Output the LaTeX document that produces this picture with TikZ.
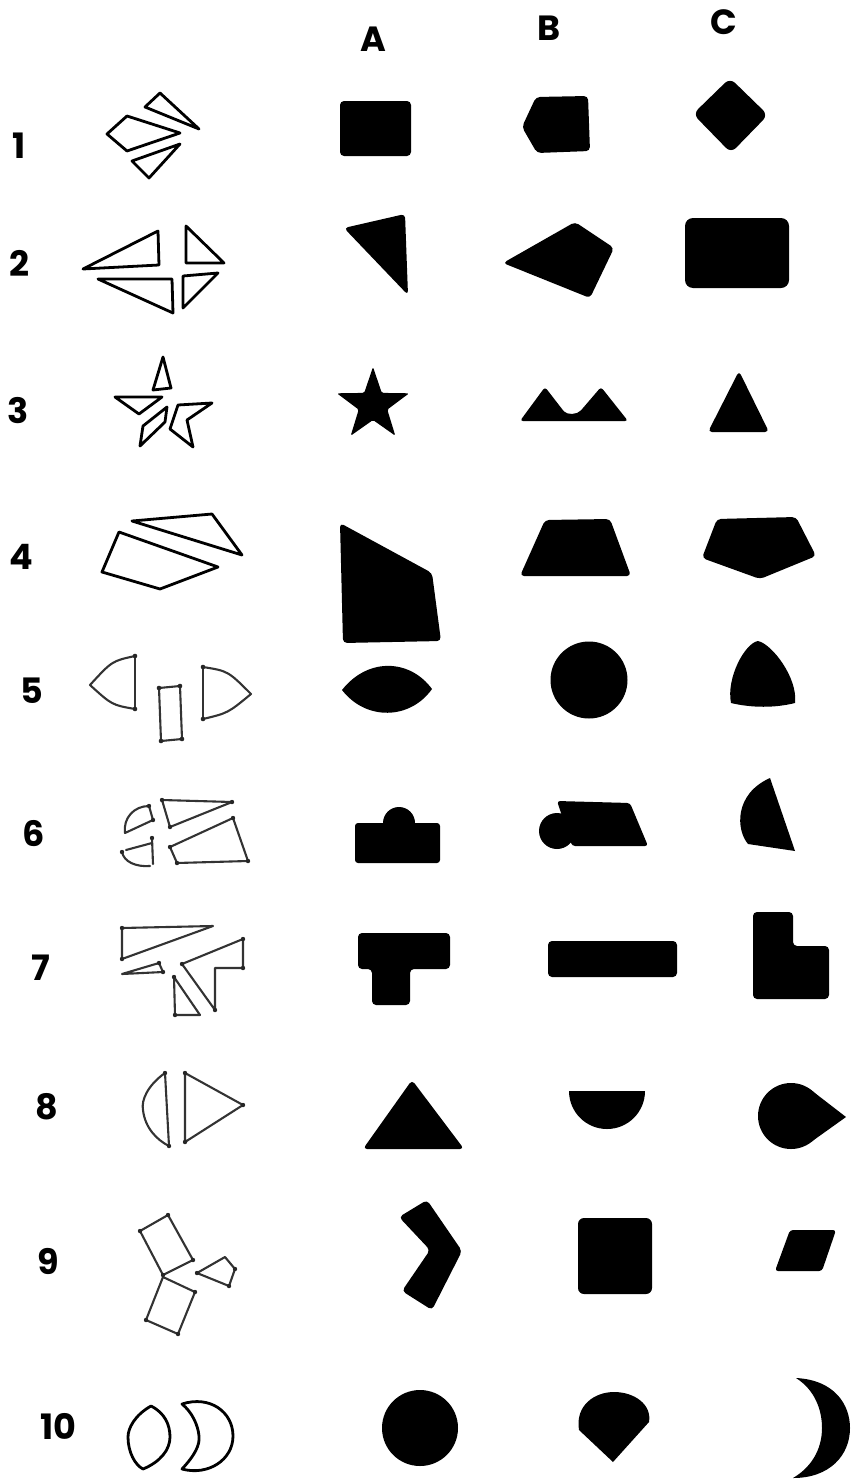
\documentclass[tikz,border=0pt]{standalone}
\usepackage{fontspec}
\newfontfamily\lab{Poppins}
\begin{document}
\begin{tikzpicture}[x=1pt,y=-1pt,
  lbl/.style={font=\lab\bfseries\fontsize{35}{35}\selectfont, inner sep=0pt},
  piece/.style={draw=black, line width=2.8pt, line join=round, line cap=round},
  faint/.style={draw=black!80, line width=2.1pt, line join=round, line cap=round},
  solidshape/.style={fill=black, rounded corners=4pt},
  dotty/.style={fill=black!85}]
\useasboundingbox (0,0) rectangle (851,1480);
% headers
\node[lbl] (hA) at (373,39) {A};
\node[lbl] (hB) at (549,28) {B};
\node[lbl] (hC) at (724,22) {C};
% row labels
\node[lbl] (r1) at (19,146) {1};
\node[lbl] (r2) at (19,263) {2};
\node[lbl] (r3) at (18,411) {3};
\node[lbl] (r4) at (21,557) {4};
\node[lbl] (r5) at (32,691) {5};
\node[lbl] (r6) at (34,834) {6};
\node[lbl] (r7) at (41,968) {7};
\node[lbl] (r8) at (47,1107) {8};
\node[lbl] (r9) at (48,1261) {9};
\node[lbl] (r10) at (58,1426) {10};

% ---------- row 1
\draw[piece] (160,93) -- (145,107) -- (199,129) -- cycle;
\draw[piece] (127,116) -- (107,134) -- (127,151) -- (180,133) -- cycle;
\draw[piece] (132,161) -- (180,144) -- (149,178) -- cycle;
\fill[solidshape] (340,101) rectangle (411,156);
\fill[solidshape] (536,97) -- (588,96) -- (590,151) -- (537,153) -- (522,127) -- cycle;
\fill[solidshape, rounded corners=7pt] (730,78) -- (768,115) -- (731,153) -- (693,114) -- cycle;

% ---------- row 2
\draw[piece] (83,269) -- (158,231) -- (159,265) -- cycle;
\draw[piece] (98,279) -- (172,279) -- (173,313) -- cycle;
\draw[piece] (186,226) -- (186,263) -- (224,263) -- cycle;
\draw[piece] (183,276) -- (218,273) -- (183,308) -- cycle;
\fill[solidshape] (344,228) -- (405,214) -- (408,295) -- cycle;
\fill[solidshape] (503,263) -- (575,222) -- (614,248) -- (590,298) -- cycle;
\fill[solidshape, rounded corners=8pt] (685,218) rectangle (789,288);

% ---------- row 3
\draw[piece] (163,357) -- (153,390) -- (171,388) -- cycle;
\draw[piece] (115,397) -- (162,397) -- (139,414) -- cycle;
\draw[piece] (167,407) -- (165,422) -- (140,446) -- (143,426) -- cycle;
\draw[piece] (178,405) -- (212,403) -- (187,420) -- (193,447) -- (170,429) -- cycle;
\fill[solidshape, rounded corners=1.5pt] (373,367) -- (381.8,392.9) -- (409.1,393.3) -- (387.3,409.6)
  -- (395.3,435.7) -- (373,420) -- (350.7,435.7) -- (358.7,409.6) -- (336.9,393.3) -- (364.2,392.9) -- cycle;
\fill[solidshape, rounded corners=3pt] (520,421) -- (545,387) -- (562,409)
  .. controls (567,415) and (577,415) .. (583,408) -- (601,387) -- (628,421) -- cycle;
\fill[solidshape] (708,432) -- (739,371) -- (769,432) -- cycle;

% ---------- row 4
\draw[piece] (132,521) -- (212,514) -- (242,555) -- cycle;
\draw[piece] (119,532) -- (218,567) -- (160,589) -- (102,572) -- cycle;
\fill[solidshape] (340,523) -- (432,573) -- (441,641) -- (343,643) -- cycle;
\fill[solidshape] (545,520) -- (610,519) -- (631,576) -- (520,576) -- cycle;
\fill[solidshape] (717,519) -- (796,517) -- (816,556) -- (760,579) -- (702,558) -- cycle;

% ---------- row 5
\draw[faint] (135,656) -- (135,709);
\draw[faint] (135,656) .. controls (112,661) .. (90,685) .. controls (112,705) .. (135,709);
\draw[faint] (159,688) -- (180,686) -- (182,739) -- (161,741) -- cycle;
\draw[faint] (203,667) -- (203,719);
\draw[faint] (203,667) .. controls (228,671) .. (251,694) .. controls (228,713) .. (203,719);
\foreach \p in {(135,656),(135,709),(159,688),(180,686),(182,739),(161,741),(203,667),(203,719)}
  \fill[dotty] \p circle (2.3);
\fill (342,690) .. controls (368,657) and (410,659) .. (432,689)
  .. controls (410,720) and (366,721) .. (342,690) -- cycle;
\fill (589,680) circle (38.5);
\fill (731,703) .. controls (726,678) and (745,643) .. (758,641)
  .. controls (772,644) and (798,678) .. (795,703) .. controls (775,708) and (752,708) .. (731,703) -- cycle;

% ---------- row 6
\draw[faint] (149,806) -- (153,820) -- (125,833) .. controls (123,818) and (134,806) .. (149,806);
\draw[faint] (152,838) -- (153,864);
\draw[faint] (126,850) -- (152,843);
\draw[faint] (122,852) .. controls (124,862) and (136,867) .. (150,866);
\draw[faint] (162,800) -- (232,802) -- (170,827) -- cycle;
\draw[faint] (170,847) -- (233,818) -- (248,861) -- (177,863) -- cycle;
\foreach \p in {(149,806),(153,820),(152,838),(122,852),(162,800),(232,802),(170,827),(170,847),(233,818),(248,861),(177,863)}
  \fill[dotty] \p circle (2.2);
\fill[solidshape, rounded corners=3pt] (355,823) rectangle (440,863);
\fill (399,823) circle (16);
\fill (557,831) circle (18);
\fill[solidshape, rounded corners=3pt] (557,801) -- (630,803) -- (648,846) -- (572,846) -- cycle;
\fill (770,778) -- (795,851) -- (748,844)
  .. controls (736,830) and (734,794) .. (770,778) -- cycle;

% ---------- row 7
\draw[faint] (122,928) -- (213,926) -- (122,959) -- cycle;
\draw[faint] (122,974) -- (159,963) -- (163,972) -- cycle;
\draw[faint] (182,964) -- (243,939) -- (243,968) -- (215,968) -- (215,1010) -- cycle;
\draw[faint] (174,977) -- (175,1015) -- (200,1015) -- cycle;
\foreach \p in {(122,928),(122,959),(159,963),(163,972),(182,964),(243,939),(243,968),(215,1010),(174,977),(175,1015)}
  \fill[dotty] \p circle (2.2);
\fill[solidshape] (358,933) -- (450,933) -- (450,969) -- (410,969) -- (410,1005) -- (372,1005) -- (372,969) -- (358,969) -- cycle;
\fill[solidshape] (548,941) rectangle (677,977);
\fill[solidshape] (753,912) -- (793,912) -- (793,946) -- (829,946) -- (829,999) -- (753,999) -- cycle;

% ---------- row 8
\draw[faint] (165,1073) -- (169,1146);
\draw[faint] (165,1073) .. controls (148,1085) and (141,1100) .. (143,1110) .. controls (145,1128) and (157,1140) .. (169,1146);
\draw[faint] (185,1073) -- (243,1105) -- (185,1142) -- cycle;
\foreach \p in {(165,1073),(169,1146),(185,1073),(243,1105),(185,1142)}
  \fill[dotty] \p circle (2.2);
\fill[solidshape] (363,1149) -- (412,1080) -- (464,1149) -- cycle;
\fill (569,1091) -- (645,1091) .. controls (645,1112) and (628,1129) .. (607,1129)
  .. controls (586,1129) and (569,1112) .. (569,1091) -- cycle;
\fill (791,1116) circle (33);
\fill (791,1116) -- (811,1090) -- (846,1117) -- (811,1142) -- cycle;

% ---------- row 9
\draw[faint] (140,1231) -- (168,1215) -- (193,1260) -- (163,1275) -- cycle;
\draw[faint] (163,1277) -- (195,1292) -- (178,1334) -- (146,1320) -- cycle;
\draw[faint] (197,1273) -- (225,1257) -- (235,1269) -- (229,1286) -- cycle;
\foreach \p in {(140,1231),(168,1215),(193,1260),(163,1275),(195,1292),(178,1334),(146,1320),(197,1273),(235,1269),(229,1286)}
  \fill[dotty] \p circle (2.2);
\fill[solidshape] (399,1217) -- (427,1200) -- (462,1251) -- (432,1310) -- (402,1291) -- (430,1250) -- cycle;
\fill[solidshape, rounded corners=6pt] (578,1218) rectangle (652,1294);
\fill[solidshape, rounded corners=3pt] (790,1230) -- (836,1230) -- (822,1271) -- (775,1271) -- cycle;

% ---------- row 10
\draw[piece] (151,1406) .. controls (135,1415) and (128,1428) .. (128,1437)
  .. controls (128,1452) and (135,1465) .. (143,1469)
  .. controls (160,1462) and (170,1450) .. (170,1437)
  .. controls (170,1425) and (165,1413) .. (151,1406) -- cycle;
\draw[piece] (182,1404) .. controls (210,1395) and (233,1412) .. (233,1436)
  .. controls (233,1460) and (208,1476) .. (182,1469)
  .. controls (195,1455) and (200,1445) .. (199,1436)
  .. controls (198,1425) and (192,1412) .. (182,1404) -- cycle;
\fill (420,1428) circle (38);
\fill (579,1430) .. controls (575,1405) and (595,1392) .. (614,1392)
  .. controls (635,1392) and (652,1405) .. (649,1422) -- (613,1462) -- cycle;
\fill (796,1378) .. controls (835,1380) and (850,1405) .. (850,1428)
  .. controls (850,1455) and (830,1478) .. (793,1478)
  .. controls (815,1465) and (822,1445) .. (822,1428)
  .. controls (822,1410) and (815,1390) .. (796,1378) -- cycle;
\end{tikzpicture}
\end{document}
